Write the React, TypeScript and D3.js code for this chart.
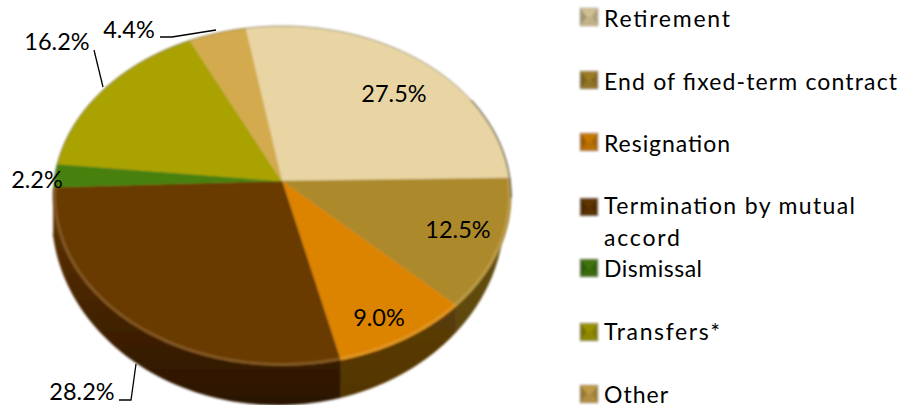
import React from "react";
import * as d3 from "d3";

const categories = ["Retirement", "End of fixed-term contract", "Resignation", "Termination by mutual accord", "Dismissal", "Transfers*", "Other"];
const shares = [27.5, 12.5, 9.0, 28.2, 2.2, 16.2, 4.4];
const colors = ["#e8d5a3", "#ac892c", "#dc8400", "#6b3a05", "#47800a", "#aaa204", "#d3aa4e"];
const sideTopColors = ["#8a7a50", "#6a5214", "#65450a", "#643606", "#3a6a08", "#807a04", "#a08030"];
const sideBottomColors = ["#6a5c3a", "#54400e", "#523505", "#2a1400", "#2a5004", "#605c02", "#806424"];
const legendLines = [["Retirement"], ["End of fixed-term contract"], ["Resignation"], ["Termination by mutual", "accord"], ["Dismissal"], ["Transfers*"], ["Other"]];
const legendWidths = [[126], [293], [126], [251, 76], [98], [116], [64]];

const W = 900, H = 405;
const CX = 282, CY = 181, RX = 228, RY = 168.6, PERSPECTIVE = 0.088;
const BOTTOM_CX = 278, BOTTOM_CY = 215, BOTTOM_RX = 226, BOTTOM_RY = 190;
const START = (-10 * Math.PI) / 180;

// label layout: [centre x, baseline y]
const labelAt: [number, number][] = [[394, 102], [458, 238], [379, 326], [82, 400], [37, 188], [57, 50], [129, 38]];
const leaders: [number, number][][] = [
  [], [], [],
  [[119, 400], [131, 400], [136, 364]],
  [],
  [[94, 50], [103, 87]],
  [[160, 37], [172, 37], [216, 30]],
];
const legendMarkerY = [8, 71, 133, 198, 259, 323, 385];
const legendBaseY = [27, 90, 152, 214, 277, 340, 403];
const legendLineGap = 32;

const project = (a: number, r = 1): [number, number] => {
  const x = r * Math.sin(a), y = -r * Math.cos(a);
  const d = 1 - PERSPECTIVE * y;
  return [CX + (RX * x) / d, CY + (RY * y) / d];
};

// point on the lower contour of the pie's side wall, straight below a rim point
const dropToBase = ([x]: [number, number]): [number, number] => {
  const u = Math.max(-1, Math.min(1, (x - BOTTOM_CX) / BOTTOM_RX));
  return [Math.max(BOTTOM_CX - BOTTOM_RX, Math.min(BOTTOM_CX + BOTTOM_RX, x)), BOTTOM_CY + BOTTOM_RY * Math.sqrt(1 - u * u)];
};

const samples = (a0: number, a1: number, n = 60) =>
  d3.range(n + 1).map((i) => a0 + ((a1 - a0) * i) / n);

const line = d3.line<[number, number]>();

const pie = d3.pie<number>().sort(null).startAngle(START).endAngle(START + 2 * Math.PI);
const arcs = pie(shares);

const LOW = Math.PI / 2 - 0.02, HIGH = (3 * Math.PI) / 2 - 0.04;

export default function App() {
  const sides = arcs
    .map((d, i) => {
      const a0 = Math.max(d.startAngle, LOW), a1 = Math.min(d.endAngle, HIGH);
      if (a1 <= a0) return null;
      const top = samples(a0, a1).map((a) => project(a));
      const bottom = top.map(dropToBase).reverse();
      return { i, path: line([...top, ...bottom])! + "Z" };
    })
    .filter(Boolean) as { i: number; path: string }[];

  const faces = arcs.map((d, i) => {
    const pts = samples(d.startAngle, d.endAngle).map((a) => project(a));
    return line([[CX, CY], ...pts])! + "Z";
  });

  const rimLow = line(samples(LOW, HIGH, 160).map((a) => project(a, 0.992)))!;
  const rimHigh = line(samples(-Math.PI / 2, Math.PI / 2 + 0.1, 160).map((a) => project(a)))!;
  const rimShade = line(samples(Math.PI / 3, Math.PI / 2 + 0.1, 60).map((a) => project(a)))!;
  const font = "Lato, Carlito, sans-serif";

  return (
    <svg width={W} height={H} viewBox={`0 0 ${W} ${H}`} style={{ position: "absolute", left: 0, top: 0, background: "#fff" }}>
      <defs>
        <filter id="soft" x="-5%" y="-5%" width="110%" height="110%"><feGaussianBlur stdDeviation="0.9" /></filter>
        <filter id="rim" x="-5%" y="-5%" width="110%" height="110%"><feGaussianBlur stdDeviation="1.2" /></filter>
        <filter id="mk" x="-10%" y="-10%" width="120%" height="120%"><feGaussianBlur stdDeviation="0.8" /></filter>
        {categories.map((_, i) => (
          <linearGradient key={i} id={`side${i}`} gradientUnits="userSpaceOnUse" x1={0} y1={190} x2={0} y2={405}>
            <stop offset="0" stopColor={sideTopColors[i]} />
            <stop offset="1" stopColor={sideBottomColors[i]} />
          </linearGradient>
        ))}
      </defs>

      <g filter="url(#soft)">
        {sides.map((s) => (
          <path key={s.i} d={s.path} fill={`url(#side${s.i})`} stroke={`url(#side${s.i})`} strokeWidth={0.5} />
        ))}
        {faces.map((p, i) => (
          <path key={i} d={p} fill={colors[i]} stroke={colors[i]} strokeWidth={0.4} />
        ))}
        <path d={rimHigh} fill="none" stroke="#77705e" strokeWidth={1} opacity={0.7} />
        <path d={rimShade} fill="none" stroke="#5a5040" strokeWidth={1.6} opacity={0.7} />
      </g>
      <path d={rimLow} fill="none" stroke="#ffffff" strokeWidth={2.5} opacity={0.16} filter="url(#rim)" />

      {leaders.map((l, i) =>
        l.length ? <path key={i} d={line(l)!} fill="none" stroke="#000" strokeWidth={1.3} /> : null
      )}

      {shares.map((v, i) => (
        <text key={i} x={labelAt[i][0]} y={labelAt[i][1]} textAnchor="middle" fontFamily={font} fontSize={23.5} fill="#000">
          {v.toFixed(1)}%
        </text>
      ))}

      {categories.map((c, i) => {
        const y = legendMarkerY[i], x = 580, s = 18, m = s / 2;
        const col = d3.color(colors[i])!;
        return (
          <g key={c}>
            <g filter="url(#mk)">
              <rect x={x} y={y} width={s} height={s} fill={colors[i]} />
              <path d={`M${x},${y}h${s}l-${m - 2},${m}h-4Z`} fill={col.darker(0.3).formatHex()} />
              <path d={`M${x},${y}v${s}l${m - 2},-${m}Z`} fill={col.darker(1).formatHex()} />
              <path d={`M${x + s},${y}v${s}l-${m - 2},-${m}Z`} fill={col.darker(0.8).formatHex()} />
              <path d={`M${x},${y + s}h${s}l-${m - 2},-${m}h-4Z`} fill={col.darker(0.5).formatHex()} />
              <rect x={x} y={y} width={s} height={s} fill="none" stroke="#b9b4a5" strokeWidth={0.8} />
            </g>
            {legendLines[i].map((t, j) => (
              <text key={j} x={604} y={legendBaseY[i] + j * legendLineGap} fontFamily={font} fontSize={23} textLength={legendWidths[i][j]} lengthAdjust="spacing" fill="#000">
                {t}
              </text>
            ))}
          </g>
        );
      })}
    </svg>
  );
}
